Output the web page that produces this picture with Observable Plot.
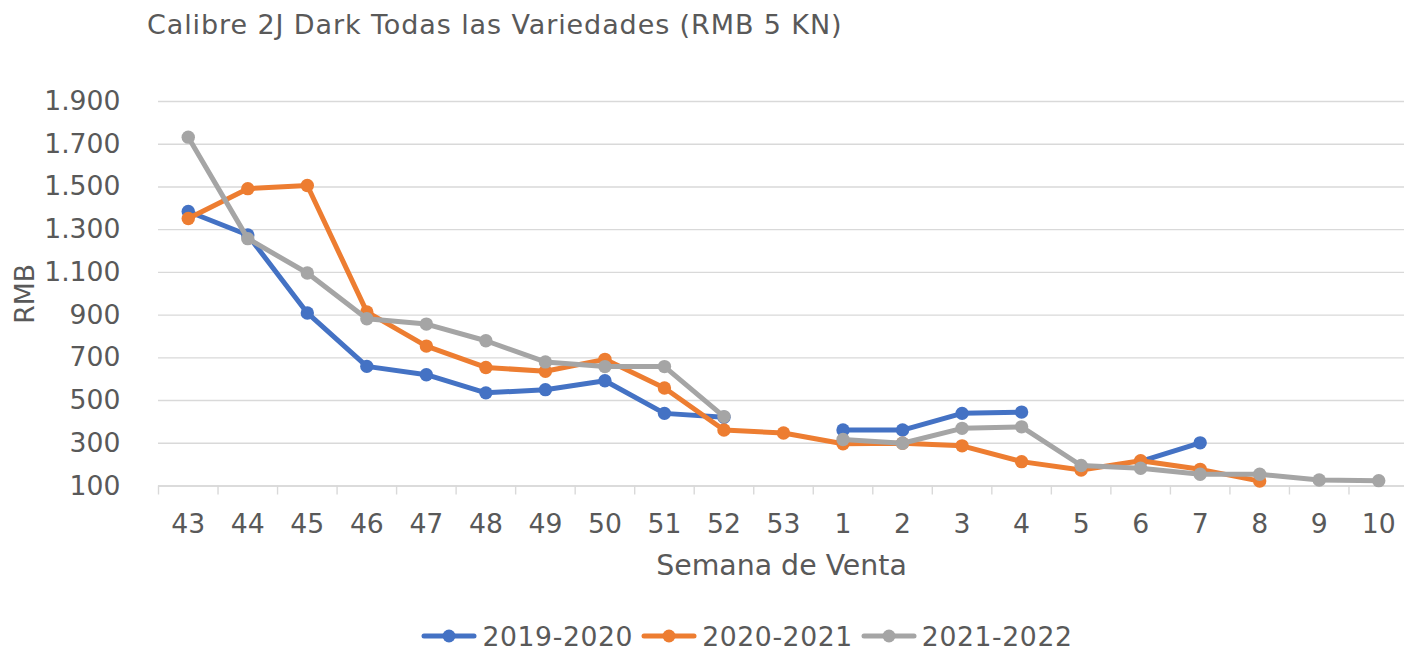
<!DOCTYPE html>
<html>
<head>
<meta charset="utf-8">
<script src="https://cdn.jsdelivr.net/npm/d3@7"></script>
<script src="https://cdn.jsdelivr.net/npm/@observablehq/plot@0.6"></script>
<style>
  html, body { margin: 0; padding: 0; background: #fff; width: 1404px; height: 650px; overflow: hidden; position: relative; }
  body { font-family: "DejaVu Sans", Verdana, sans-serif; color: #595959; }
  #title { position: absolute; left: 147px; top: 0; height: 50px; line-height: 50px; font-size: 27px; letter-spacing: 0.9px; white-space: nowrap; }
  #chart { position: absolute; left: 0; top: 50px; }
  #legend { position: absolute; left: 90px; top: 614px; width: 1314px; height: 44px; display: flex; justify-content: center; align-items: center; font-size: 26.67px; letter-spacing: 0.6px; }
  .item { display: flex; align-items: center; margin: 0 4px; }
  .item svg { margin-right: 5px; }
</style>
</head>
<body>
<div id="title">Calibre 2J Dark Todas las Variedades (RMB 5 KN)</div>
<div id="chart"></div>
<div id="legend"></div>
<script>
const weeks = ["43","44","45","46","47","48","49","50","51","52","53","1","2","3","4","5","6","7","8","9","10"];
const seriesNames = ["2019-2020", "2020-2021", "2021-2022"];
const s2019 = [1385, 1275, 910, 660, 621, 536, 551, 593, 440, 422, null, 362, 362, 440, 446, null, 215, 302, null, null, null];
const s2020 = [1352, 1492, 1507, 915, 755, 655, 637, 693, 559, 362, 348, 298, 300, 288, 214, 175, 218, 178, 123, null, null];
const s2021 = [1733, 1258, 1097, 883, 858, 780, 681, 659, 659, 425, null, 318, 300, 370, 377, 196, 183, 155, 155, 128, 125];
const yTicks = [100, 300, 500, 700, 900, 1100, 1300, 1500, 1700, 1900];
const colors = ["#4472C4", "#ED7D31", "#A5A5A5"];

const allSeries = [s2019, s2020, s2021];
const data = allSeries.flatMap((vals, i) => weeks.map((w, j) => ({series: seriesNames[i], week: w, value: vals[j]})));

const fmt = d => d3.format(",")(d).replace(/,/g, ".");
const W = 1404, H = 550;
const xRange = [158, 1408];
const bw = (xRange[1] - xRange[0]) / weeks.length;
const font = "DejaVu Sans, Verdana, sans-serif";

const seriesMarks = seriesNames.flatMap((name, i) => {
  const d = data.filter(r => r.series === name);
  return [
    Plot.line(d, {x: "week", y: "value", stroke: colors[i], strokeWidth: 5, strokeLinejoin: "round", strokeLinecap: "round"}),
    Plot.dot(d.filter(r => r.value != null), {x: "week", y: "value", fill: colors[i], r: 6.7})
  ];
});

const chart = Plot.plot({
  width: W,
  height: H,
  marginTop: 51,
  marginBottom: 114.5,
  marginLeft: 158,
  marginRight: 0,
  style: {fontFamily: font, fontSize: "26.67px", color: "#595959", background: "#fff", overflow: "visible"},
  x: {type: "band", domain: weeks, range: xRange, padding: 0, round: false},
  y: {domain: [100, 1900], ticks: yTicks},
  marks: [
    Plot.gridY(yTicks, {stroke: "#d9d9d9", strokeOpacity: 1, strokeWidth: 1.4}),
    Plot.axisY(yTicks, {tickSize: 0, tickPadding: 38, tickFormat: fmt, fill: "#595959", fontSize: "26.67px",
      label: "RMB", labelAnchor: "center", labelArrow: "none", labelOffset: 143}),
    Plot.axisX({tickSize: 9, tickFormat: () => "", dx: -bw / 2, stroke: "#d9d9d9", strokeWidth: 1.4, strokeOpacity: 1, label: null}),
    Plot.axisX({tickSize: 0, tickPadding: 28, fill: "#595959", fontSize: "26.67px", label: null}),
    Plot.axisX({tickSize: 0, tickFormat: () => "", label: "Semana de Venta", labelAnchor: "center", labelArrow: "none",
      labelOffset: 89, fill: "#595959", fontSize: "28.4px"}),
    Plot.ruleY([100], {stroke: "#d9d9d9", strokeWidth: 1.4}),
    ...seriesMarks
  ]
});
document.getElementById("chart").appendChild(chart);

const legend = document.getElementById("legend");
seriesNames.forEach((name, i) => {
  const item = document.createElement("div");
  item.className = "item";
  item.innerHTML = `<svg width="56" height="20"><line x1="3" y1="10" x2="53" y2="10" stroke="${colors[i]}" stroke-width="5" stroke-linecap="round"/><circle cx="28" cy="10" r="6.5" fill="${colors[i]}"/></svg><span>${name}</span>`;
  legend.appendChild(item);
});
</script>
</body>
</html>
